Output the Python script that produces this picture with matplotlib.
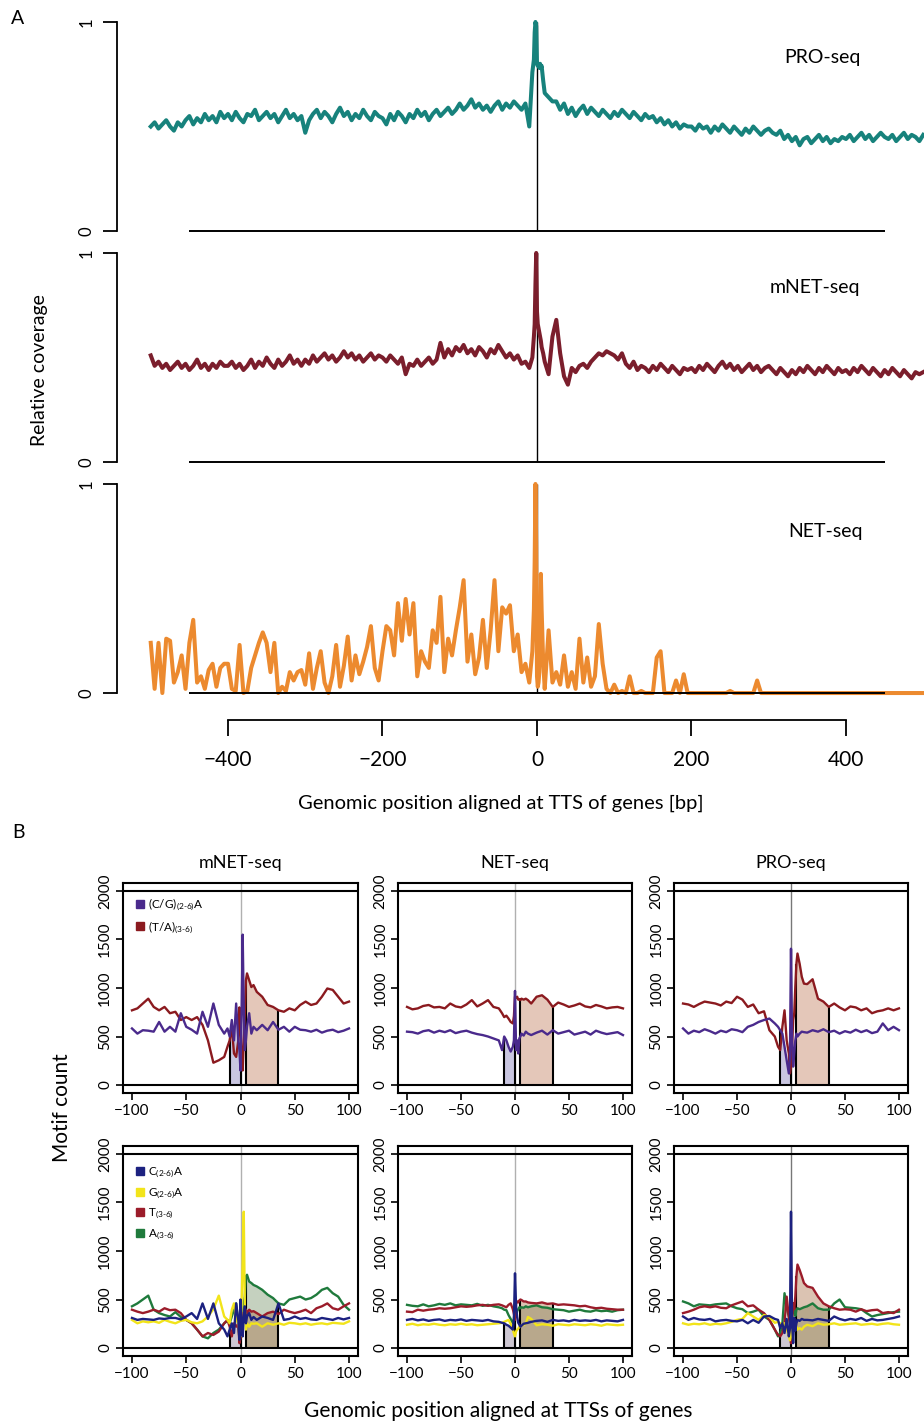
import numpy as np
import matplotlib
matplotlib.use("Agg")
import matplotlib.pyplot as plt
from matplotlib.lines import Line2D

plt.rcParams['font.family'] = ['Lato', 'DejaVu Sans']
plt.rcParams['mathtext.default'] = 'regular'

# ---- panel A : relative coverage around TTS ----
a_left_x = list(range(-500, -5, 5))          # -500 .. -10
a_mid_x = [-6, -4, -3, -2, -1, 0, 1, 2, 3, 4, 5, 6, 8]
a_right_x = list(range(10, 505, 5))          # 10 .. 500
a_x = a_left_x + a_mid_x + a_right_x

pro_cov = [
    0.50,0.52,0.49,0.51,0.53,0.50,0.48,0.52,0.50,0.53,0.55,0.51,0.54,0.52,0.56,0.53,0.55,0.52,0.57,0.54,
    0.56,0.53,0.57,0.54,0.52,0.56,0.55,0.58,0.53,0.55,0.57,0.54,0.56,0.52,0.55,0.58,0.54,0.56,0.53,0.55,
    0.47,0.53,0.56,0.58,0.54,0.57,0.55,0.52,0.56,0.59,0.55,0.57,0.53,0.56,0.54,0.58,0.55,0.53,0.57,0.55,
    0.54,0.51,0.56,0.53,0.57,0.55,0.52,0.56,0.54,0.58,0.55,0.57,0.53,0.56,0.58,0.55,0.57,0.59,0.56,0.58,
    0.61,0.58,0.60,0.63,0.59,0.61,0.58,0.60,0.57,0.60,0.62,0.58,0.61,0.59,0.62,0.60,0.58,0.61,0.50,
    0.76,0.82,0.95,1.00,0.98,0.80,0.79,0.80,0.78,0.80,0.78,0.79,0.72,
    0.66,0.64,0.62,0.62,0.58,0.61,0.56,0.59,0.55,0.58,0.60,0.56,0.59,0.57,0.55,0.58,0.56,0.54,
    0.57,0.55,0.58,0.56,0.54,0.57,0.55,0.53,0.56,0.54,0.55,0.52,0.54,0.51,0.53,0.50,0.52,0.49,0.51,0.50,
    0.50,0.48,0.51,0.49,0.50,0.47,0.50,0.48,0.51,0.49,0.47,0.50,0.48,0.46,0.49,0.47,0.50,0.48,0.46,0.48,
    0.49,0.47,0.46,0.48,0.44,0.46,0.43,0.45,0.41,0.44,0.45,0.42,0.44,0.46,0.43,0.45,0.42,0.44,0.43,0.45,
    0.44,0.46,0.43,0.45,0.47,0.44,0.46,0.43,0.45,0.47,0.45,0.44,0.46,0.43,0.45,0.47,0.44,0.46,0.45,0.43,0.46,
]
mnet_cov = [
    0.51,0.46,0.48,0.45,0.47,0.44,0.46,0.48,0.45,0.47,0.44,0.46,0.49,0.45,0.47,0.44,0.47,0.45,0.48,0.46,
    0.46,0.48,0.45,0.47,0.44,0.46,0.49,0.45,0.48,0.46,0.50,0.47,0.45,0.49,0.46,0.48,0.51,0.47,0.49,0.46,
    0.49,0.47,0.51,0.48,0.50,0.52,0.49,0.51,0.48,0.50,0.53,0.50,0.52,0.49,0.51,0.48,0.50,0.52,0.49,0.51,
    0.50,0.48,0.51,0.49,0.47,0.50,0.42,0.47,0.46,0.49,0.46,0.48,0.50,0.47,0.49,0.57,0.50,0.54,0.51,0.55,
    0.53,0.56,0.52,0.54,0.51,0.55,0.53,0.50,0.54,0.52,0.56,0.53,0.50,0.52,0.49,0.51,0.47,0.48,0.45,
    0.50,0.60,0.66,0.85,1.00,0.72,0.66,0.64,0.62,0.60,0.58,0.55,0.52,
    0.48,0.42,0.60,0.68,0.52,0.41,0.37,0.45,0.43,0.46,0.47,0.45,0.48,0.50,0.52,0.51,0.53,0.52,
    0.51,0.49,0.52,0.47,0.45,0.48,0.44,0.46,0.45,0.43,0.46,0.44,0.47,0.45,0.43,0.46,0.44,0.42,0.45,0.44,
    0.45,0.43,0.46,0.44,0.47,0.45,0.43,0.46,0.48,0.45,0.47,0.44,0.46,0.43,0.45,0.47,0.44,0.46,0.43,0.45,
    0.46,0.44,0.42,0.45,0.43,0.41,0.44,0.42,0.45,0.43,0.46,0.44,0.42,0.45,0.43,0.46,0.44,0.42,0.45,0.43,
    0.44,0.42,0.45,0.43,0.46,0.44,0.42,0.45,0.43,0.41,0.44,0.42,0.45,0.43,0.41,0.44,0.42,0.40,0.43,0.42,0.43,
]
net_cov = [
    0.24,0.02,0.24,0.00,0.26,0.25,0.05,0.10,0.18,0.02,0.24,0.35,0.05,0.08,0.02,0.11,0.14,0.03,0.12,0.14,
    0.14,0.02,0.01,0.23,0.00,0.01,0.12,0.18,0.24,0.29,0.24,0.10,0.24,0.00,0.03,0.01,0.10,0.06,0.10,0.11,
    0.04,0.19,0.02,0.12,0.20,0.05,0.00,0.08,0.23,0.03,0.13,0.27,0.06,0.18,0.09,0.15,0.22,0.32,0.12,0.06,
    0.20,0.32,0.30,0.18,0.43,0.25,0.45,0.28,0.43,0.08,0.20,0.15,0.12,0.30,0.24,0.46,0.10,0.26,0.18,0.30,
    0.41,0.54,0.15,0.28,0.09,0.17,0.35,0.12,0.30,0.54,0.20,0.41,0.38,0.42,0.20,0.28,0.10,0.14,0.05,
    0.20,0.40,0.63,1.00,0.70,0.08,0.03,0.05,0.10,0.30,0.57,0.40,0.15,
    0.02,0.30,0.05,0.10,0.04,0.18,0.03,0.10,0.02,0.26,0.05,0.17,0.03,0.08,0.33,0.14,0.02,0.00,
    0.04,0.00,0.01,0.00,0.08,0.00,0.00,0.01,0.00,0.00,0.00,0.17,0.20,0.00,0.00,0.00,0.06,0.00,0.09,0.00,
    0.00,0.00,0.00,0.00,0.00,0.00,0.00,0.00,0.00,0.00,0.01,0.00,0.00,0.00,0.00,0.00,0.00,0.06,0.00,0.00,
    0.00,0.00,0.00,0.00,0.00,0.00,0.00,0.00,0.00,0.00,0.00,0.00,0.00,0.00,0.00,0.00,0.00,0.00,0.00,0.00,
    0.00,0.00,0.00,0.00,0.00,0.00,0.00,0.00,0.00,0.00,0.00,0.00,0.00,0.00,0.00,0.00,0.00,0.00,0.00,0.00,0.00,
]
a_xticks = [-400, -200, 0, 200, 400]

# ---- panel B : motif counts ----
bx = [-100,-95,-90,-85,-80,-75,-70,-65,-60,-55,-50,-45,-40,-35,-30,-25,-20,-15,
      -12,-10,-8,-6,-4,-2,-1,0,1,2,3,4,5,6,8,10,12,
      15,20,25,30,35,40,45,50,55,60,65,70,75,80,85,90,95,100]

mnet_cg = [583,530,565,560,550,650,550,600,550,740,600,570,530,755,600,840,620,530,
           583,500,670,460,840,460,360,150,740,1550,800,360,460,600,740,530,600,
           565,620,565,650,570,600,550,600,570,565,550,570,540,560,570,545,560,583]
mnet_ta = [770,790,840,890,805,770,805,740,755,670,700,670,700,620,460,230,255,290,
           395,460,600,325,290,460,800,640,255,150,460,740,1080,1150,1080,1010,1030,
           960,910,825,805,770,755,790,770,825,860,825,840,910,995,980,910,840,860]
net_cg = [550,545,530,555,565,540,560,545,565,535,550,560,540,525,515,500,480,460,
          360,500,460,395,345,395,460,970,360,460,325,480,500,530,510,550,530,
          515,540,560,520,565,530,545,560,520,535,550,520,560,540,525,535,545,515]
net_ta = [805,780,790,815,825,800,805,790,840,810,800,830,875,810,840,875,805,790,
          740,700,715,685,650,635,710,910,900,910,880,885,875,890,880,890,875,
          840,910,925,880,805,850,830,805,820,840,810,800,825,810,790,800,805,790]
pro_cg = [583,530,560,545,575,555,530,560,545,575,565,545,600,620,650,670,685,635,
          600,565,530,395,255,120,290,1405,460,190,325,460,530,500,530,550,545,
          540,565,550,575,545,560,530,555,540,570,545,565,535,550,635,565,600,565]
pro_ta = [840,830,805,835,860,850,840,820,860,845,910,880,805,830,740,760,565,500,
          395,360,600,770,460,325,120,180,395,670,740,1010,1250,1355,1250,1115,1045,
          1040,1090,890,860,805,840,800,770,810,800,770,790,740,760,770,790,770,790]

mnet_c = [310,290,300,295,290,305,300,310,310,295,325,360,300,460,300,460,255,190,
          120,190,255,155,460,290,85,500,255,120,325,430,255,325,360,290,320,
          290,325,310,290,460,290,300,325,300,310,295,290,310,300,290,310,295,310]
mnet_g = [290,255,275,265,275,260,290,270,255,280,290,265,255,275,325,400,540,325,
          290,255,395,460,290,255,190,120,460,900,1405,400,190,255,220,255,250,
          255,220,255,240,255,240,260,255,245,255,240,250,255,245,260,255,250,275]
mnet_t = [395,375,360,375,395,375,410,390,395,360,290,255,190,120,155,135,170,255,
          290,220,120,255,220,250,50,100,255,360,290,325,395,360,395,375,380,
          360,325,360,375,350,395,375,360,375,395,360,410,430,460,410,395,430,460]
mnet_a = [430,460,500,540,395,360,340,325,370,320,290,255,190,120,100,155,190,255,
          280,255,325,395,460,255,85,255,325,190,460,530,740,755,685,670,650,
          635,600,550,515,460,445,500,515,530,500,515,550,600,620,565,530,445,395]
net_c = [290,300,285,295,280,290,295,280,290,285,295,280,290,285,280,290,275,270,
         260,255,240,230,210,190,300,770,430,320,260,240,220,230,250,255,260,
         270,280,285,270,290,280,285,275,290,280,285,280,290,275,285,280,275,290]
net_g = [240,250,235,245,240,250,240,235,245,240,250,240,245,235,240,245,250,255,
         260,270,280,290,250,190,150,120,170,190,200,220,225,230,240,250,320,
         300,235,245,240,230,245,240,235,245,240,235,245,240,230,245,240,235,240]
net_t = [375,370,395,385,395,400,410,405,410,420,430,425,430,440,445,435,445,450,
         440,430,420,445,460,400,350,290,460,480,470,490,500,495,480,480,470,
         465,460,470,455,460,445,450,445,440,430,435,420,410,415,405,400,395,395]
net_a = [445,435,430,450,430,440,455,445,460,440,450,445,440,455,435,445,430,420,
         410,395,390,340,300,255,300,460,320,380,400,420,410,420,415,430,420,
         430,440,420,415,400,395,390,375,385,395,380,375,390,380,385,375,390,395]
pro_c = [325,290,310,295,290,300,275,285,290,280,275,290,255,290,260,325,330,300,
         290,205,255,155,300,120,200,1405,250,50,310,180,255,290,280,300,290,
         290,285,300,290,280,325,300,285,300,290,310,280,300,285,290,300,310,325]
pro_g = [255,240,250,245,255,240,250,245,255,270,290,300,360,325,290,340,320,260,
         270,255,220,255,200,120,80,120,250,220,240,260,220,190,205,190,220,
         240,225,255,240,245,255,240,245,250,255,240,245,250,240,250,255,245,240]
pro_t = [360,375,395,420,430,420,430,415,410,440,460,480,430,440,395,360,290,190,
         135,120,155,255,530,320,255,50,290,460,400,530,740,860,805,740,670,
         635,620,530,460,430,410,395,400,395,375,400,380,390,395,360,370,360,395]
pro_a = [480,460,430,450,445,440,450,455,460,430,410,400,360,375,395,325,290,190,
         120,155,250,565,420,320,255,120,300,460,395,330,395,410,400,410,420,
         430,460,410,395,395,460,500,420,415,410,400,360,325,340,350,360,370,375]

b_titles = ['mNET-seq', 'NET-seq', 'PRO-seq']
row1_labels = ['(C/G)$_{(2\u20106)}$A', '(T/A)$_{(3\u20106)}$']
row2_labels = ['C$_{(2\u20106)}$A', 'G$_{(2\u20106)}$A', 'T$_{(3\u20106)}$', 'A$_{(3\u20106)}$']

W, H = 924, 1423
fig = plt.figure(figsize=(W / 100, H / 100), dpi=100)


def box(x0, y0, x1, y1):
    return fig.add_axes([x0 / W, 1 - y1 / H, (x1 - x0) / W, (y1 - y0) / H])


# panel A
a_rows = [(15.7, 237.3, pro_cov, '#17827c', 'PRO-seq', 822, 58),
          (246.7, 468.3, mnet_cov, '#7b1e2c', 'mNET-seq', 815, 287),
          (477.7, 699.3, net_cov, '#ec8a2f', 'NET-seq', 825, 532)]
for i, (t, b, cov, col, name, tx, ty) in enumerate(a_rows):
    ax = box(117, t, 924, b)
    ax.patch.set_alpha(0)
    ax.set_xlim(-543.7, 501)
    ax.set_ylim(-0.03, 1.03)
    ax.plot(a_x, cov, color=col, lw=2.9, zorder=3, solid_joinstyle='round')
    ax.vlines(0, 0, 1, color='black', lw=1.0, zorder=2)
    ax.hlines(0, -450, 450, color='black', lw=1.4, zorder=4)
    for s in ['top', 'right']:
        ax.spines[s].set_visible(False)
    ax.spines['left'].set_bounds(0, 1)
    ax.spines['left'].set_linewidth(1.3)
    ax.set_yticks([0, 1])
    ax.set_yticklabels(['0', '1'], rotation=90, va='center')
    ax.tick_params(axis='y', length=10, width=1.3, labelsize=12, pad=6)
    if i < 2:
        ax.spines['bottom'].set_visible(False)
        ax.set_xticks([])
    else:
        ax.spines['bottom'].set_position(('outward', 14.9))
        ax.spines['bottom'].set_bounds(-400, 400)
        ax.spines['bottom'].set_linewidth(1.3)
        ax.set_xticks(a_xticks)
        ax.tick_params(axis='x', length=11.5, width=1.3, labelsize=15, pad=10)
    fig.text(tx / W, 1 - ty / H, name, ha='center', va='center', fontsize=14)

fig.text(40 / W, 1 - 370 / H, 'Relative coverage', rotation=90, ha='center', va='center', fontsize=14)
fig.text(501 / W, 1 - 803 / H, 'Genomic position aligned at TTS of genes [bp]',
         ha='center', va='center', fontsize=14.5)
fig.text(18 / W, 1 - 18 / H, 'A', ha='center', va='center', fontsize=14)
fig.text(18 / W, 1 - 832 / H, 'B', ha='center', va='center', fontsize=14)

# panel B
xs = np.array(bx)
cols_px = [(123.3, 357.7), (398.4, 631.6), (674.4, 907.6)]
rows_px = [(883.2, 1092.8), (1146.2, 1355.8)]
purple, darkred = '#4a2a8c', '#8b1a1f'
navy, yellow, red, green = '#1c2180', '#f2e41a', '#9b1c2a', '#1f7a3c'

row1_data = [(mnet_cg, mnet_ta), (net_cg, net_ta), (pro_cg, pro_ta)]
row2_data = [(mnet_c, mnet_g, mnet_t, mnet_a), (net_c, net_g, net_t, net_a),
             (pro_c, pro_g, pro_t, pro_a)]


def frame(ax, zero_col):
    ax.set_xlim(-108, 108)
    ax.set_ylim(-80, 2080)
    for s in ax.spines.values():
        s.set_linewidth(1.5)
    ax.axhline(0, color='black', lw=1.5, zorder=5)
    ax.axhline(2000, color='black', lw=1.5, zorder=5)
    ax.axvline(0, color=zero_col, lw=1.0, zorder=1.5)
    ax.set_xticks([-100, -50, 0, 50, 100])
    ax.set_yticks([0, 500, 1000, 1500, 2000])
    ax.set_yticklabels(['0', '500', '1000', '1500', '2000'], rotation=90, va='center')
    ax.tick_params(length=5, width=1.2, labelsize=11, pad=3)


def region(lo, hi):
    return (xs >= lo) & (xs <= hi)


def edge(ax, x, y):
    ax.vlines(x, 0, np.array(y)[bx.index(x)], color='black', lw=1.5, zorder=2)


for j, (l, r) in enumerate(cols_px):
    zc = '#b0b0b0' if j < 2 else '#777777'
    # row 1
    ax = box(l, rows_px[0][0], r, rows_px[0][1])
    frame(ax, zc)
    cg, ta = (np.array(v) for v in row1_data[j])
    m1, m2 = region(-10, 0), region(5, 35)
    ax.fill_between(xs[m1], 0, cg[m1], color='#c9c6e0', lw=0, zorder=1)
    ax.fill_between(xs[m2], 0, ta[m2], color='#e4c7b9', lw=0, zorder=1)
    for xv, yv in [(-10, cg), (0, cg), (5, ta), (35, ta)]:
        edge(ax, xv, yv)
    ax.plot(xs, ta, color=darkred, lw=1.7, zorder=3)
    ax.plot(xs, cg, color=purple, lw=1.7, zorder=3)
    ax.set_title(b_titles[j], fontsize=13, pad=11)
    if j == 0:
        h = [Line2D([], [], marker='s', ls='none', color=c, markersize=5.5)
             for c in (purple, darkred)]
        ax.legend(h, row1_labels, loc='upper left', bbox_to_anchor=(0.02, 0.96),
                  frameon=False, fontsize=8.5, handletextpad=0.1, labelspacing=0.5,
                  borderaxespad=0, handlelength=1.2)
    # row 2
    ax = box(l, rows_px[1][0], r, rows_px[1][1])
    frame(ax, zc)
    c, g, t, a = (np.array(v) for v in row2_data[j])
    top = np.maximum(t, a)
    ax.fill_between(xs[m1], 0, c[m1], color='#cdc7d2', lw=0, zorder=1)
    ax.fill_between(xs[m2], 0, a[m2], color='#6e8c60', alpha=0.4, lw=0, zorder=1)
    ax.fill_between(xs[m2], 0, t[m2], color='#a56b40', alpha=0.4, lw=0, zorder=1)
    for xv, yv in [(-10, c), (0, c), (5, top), (35, top)]:
        edge(ax, xv, yv)
    ax.plot(xs, a, color=green, lw=1.7, zorder=3)
    ax.plot(xs, t, color=red, lw=1.7, zorder=3)
    ax.plot(xs, g, color=yellow, lw=1.7, zorder=3)
    ax.plot(xs, c, color=navy, lw=1.7, zorder=3)
    if j == 0:
        h = [Line2D([], [], marker='s', ls='none', color=cc, markersize=5.5)
             for cc in (navy, yellow, red, green)]
        ax.legend(h, row2_labels, loc='upper left', bbox_to_anchor=(0.02, 0.93),
                  frameon=False, fontsize=8.5, handletextpad=0.1, labelspacing=0.5,
                  borderaxespad=0, handlelength=1.2)

fig.text(62 / W, 1 - 1108 / H, 'Motif count', rotation=90, ha='center', va='center', fontsize=15)
fig.text(498 / W, 1 - 1411 / H, 'Genomic position aligned at TTSs of genes',
         ha='center', va='center', fontsize=15)

fig.savefig('out.png', dpi=100)
